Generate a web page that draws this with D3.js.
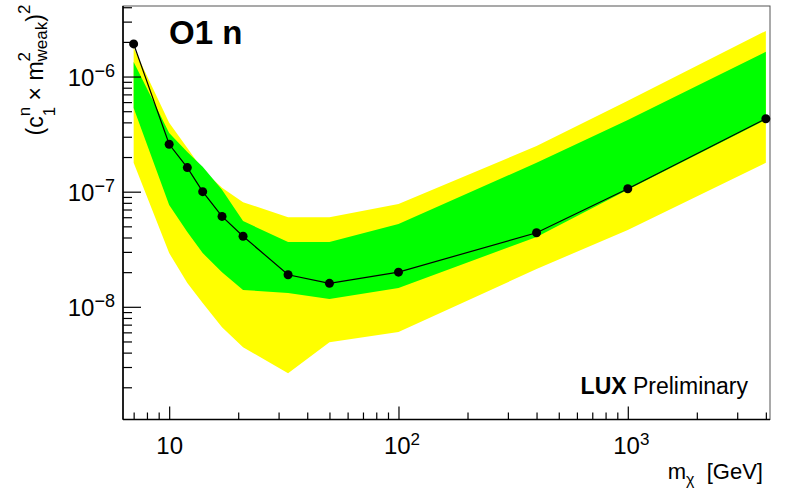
<!DOCTYPE html>
<html>
<head>
<meta charset="utf-8">
<script src="https://cdn.jsdelivr.net/npm/d3@7"></script>
<style>
  body { margin: 0; background: #fff; }
  svg { font-family: "Liberation Sans", Arial, Helvetica, sans-serif; }
  text { white-space: pre; }
</style>
</head>
<body>
<svg id="chart" width="787" height="494"></svg>
<script>
// WIMP masses (GeV) and the limit
var masses   = [7, 10, 12, 14, 17, 21, 33, 50, 100, 400, 1000, 4000];
var observed = [1.92e-6, 2.58e-7, 1.62e-7, 1.0e-7, 6.1e-8, 4.1e-8, 1.9e-8, 1.6e-8, 2.0e-8, 4.4e-8, 1.06e-7, 4.3e-7];

// expected sensitivity bands
var plus2sigma  = [1.78e-6, 3.96e-7, 2.40e-7, 1.55e-7, 1.08e-7, 8.1e-8, 6.0e-8, 6.0e-8, 7.8e-8, 2.49e-7, 6.15e-7, 2.49e-6];
var plus1sigma  = [1.34e-6, 3.23e-7, 2.21e-7, 1.65e-7, 1.04e-7, 5.56e-8, 3.65e-8, 3.65e-8, 5.24e-8, 1.78e-7, 4.2e-7, 1.64e-6];
var minus1sigma = [5.34e-7, 7.66e-8, 4.46e-8, 2.93e-8, 2.0e-8, 1.40e-8, 1.32e-8, 1.17e-8, 1.46e-8, 4.04e-8, 1.04e-7, 4.2e-7];
var minus2sigma = [1.78e-7, 2.93e-8, 1.61e-8, 1.08e-8, 6.65e-9, 4.46e-9, 2.65e-9, 4.93e-9, 6.03e-9, 2.13e-8, 4.65e-8, 1.78e-7];

var xMajor = [10, 100, 1000];
var xMajorLabels = [["10", ""], ["10", "2"], ["10", "3"]];
var yMajor = [1e-8, 1e-7, 1e-6];
var yMajorLabels = [["10", "\u22128"], ["10", "\u22127"], ["10", "\u22126"]];

var frame = {left: 123, top: 6, right: 770, bottom: 419.5};

var svg = d3.select("#chart");

var x = d3.scaleLog().domain([6.29, 4170]).range([frame.left, frame.right]);
var y = d3.scaleLog().domain([1.05e-9, 4.1e-6]).range([frame.bottom, frame.top]);

var rows = masses.map(function(m, i) {
  return {m: m, obs: observed[i], p2: plus2sigma[i], p1: plus1sigma[i], m1: minus1sigma[i], m2: minus2sigma[i]};
});

// minor ticks, every 2..9 of each decade inside the domain
function minorTicks(scale) {
  var d = scale.domain(), out = [];
  var lo = Math.floor(Math.log10(d[0])), hi = Math.ceil(Math.log10(d[1]));
  for (var e = lo; e <= hi; e++) {
    for (var k = 2; k <= 9; k++) {
      var v = k * Math.pow(10, e);
      if (v >= d[0] && v <= d[1]) out.push(v);
    }
  }
  return out;
}

// frame
svg.append("rect")
  .attr("x", frame.left).attr("y", frame.top)
  .attr("width", frame.right - frame.left).attr("height", frame.bottom - frame.top)
  .attr("fill", "none").attr("stroke", "#555").attr("stroke-width", 1);

// bands
var yellow = d3.area()
  .x(function(d) { return x(d.m); })
  .y0(function(d) { return y(d.m2); })
  .y1(function(d) { return y(d.p2); });
var green = d3.area()
  .x(function(d) { return x(d.m); })
  .y0(function(d) { return y(d.m1); })
  .y1(function(d) { return y(d.p1); });

svg.append("path").datum(rows).attr("d", yellow).attr("fill", "#ffff00");
svg.append("path").datum(rows).attr("d", green).attr("fill", "#00ff00");

// observed limit
var line = d3.line()
  .x(function(d) { return x(d.m); })
  .y(function(d) { return y(d.obs); });
svg.append("path").datum(rows).attr("d", line)
  .attr("fill", "none").attr("stroke", "#000").attr("stroke-width", 1.2);
svg.selectAll(".pt").data(rows).enter().append("circle")
  .attr("class", "pt")
  .attr("cx", function(d) { return x(d.m); })
  .attr("cy", function(d) { return y(d.obs); })
  .attr("r", 4.5).attr("fill", "#000");

// axes
var xMinorAxis = d3.axisBottom(x).tickValues(minorTicks(x)).tickSize(-7).tickSizeOuter(0).tickFormat("");
var xMajorAxis = d3.axisBottom(x).tickValues(xMajor).tickSize(-13).tickSizeOuter(0).tickPadding(17).tickFormat("");
var yMinorAxis = d3.axisLeft(y).tickValues(minorTicks(y)).tickSize(-9).tickSizeOuter(0).tickFormat("");
var yMajorAxis = d3.axisLeft(y).tickValues(yMajor).tickSize(-18).tickSizeOuter(0).tickPadding(8).tickFormat("");

var gx = svg.append("g").attr("transform", "translate(0," + frame.bottom + ")");
gx.append("g").call(xMinorAxis);
var gxMaj = gx.append("g").call(xMajorAxis);
var gy = svg.append("g").attr("transform", "translate(" + frame.left + ",0)");
gy.append("g").call(yMinorAxis);
var gyMaj = gy.append("g").call(yMajorAxis);

svg.selectAll(".domain").remove();
svg.selectAll(".tick line").attr("stroke", "#000").attr("stroke-width", 1.2);

// tick labels with exponents
gxMaj.selectAll(".tick text").each(function(d, i) {
  var t = d3.select(this).attr("font-size", 24).attr("fill", "#000").attr("dy", "0.72em");
  t.append("tspan").text(xMajorLabels[i][0]);
  if (xMajorLabels[i][1]) {
    t.append("tspan").attr("font-size", 17).attr("dy", -9).text(xMajorLabels[i][1]);
    t.attr("dx", 3);
  }
});
gyMaj.selectAll(".tick text").each(function(d, i) {
  var t = d3.select(this).attr("font-size", 24).attr("fill", "#000").attr("dy", "0.36em");
  t.append("tspan").text(yMajorLabels[i][0]);
  t.append("tspan").attr("font-size", 18).attr("dy", -9).text(yMajorLabels[i][1]);
});
svg.selectAll(".tick text").attr("font-family", null);

// axis lines
svg.append("line").attr("x1", frame.left).attr("x2", frame.left)
  .attr("y1", frame.top).attr("y2", frame.bottom).attr("stroke", "#000").attr("stroke-width", 1.6);
svg.append("line").attr("x1", frame.left).attr("x2", frame.right)
  .attr("y1", frame.bottom).attr("y2", frame.bottom).attr("stroke", "#000").attr("stroke-width", 1.6);

// x axis title
var xt = svg.append("text").attr("x", 763).attr("y", 479).attr("text-anchor", "end").attr("font-size", 22);
xt.append("tspan").text("m");
xt.append("tspan").attr("font-size", 16).attr("dy", 6).text("\u03c7");
xt.append("tspan").attr("dy", -6).text("  [GeV]");

// y axis title
var yt = svg.append("text").attr("transform", "translate(43,70) rotate(-90)")
  .attr("text-anchor", "middle").attr("font-size", 23);
yt.append("tspan").text("(c");
yt.append("tspan").attr("font-size", 17).attr("dy", -13).text("n");
yt.append("tspan").attr("font-size", 17).attr("dx", -9.5).attr("dy", 25).text("1");
yt.append("tspan").attr("dy", -12).text(" \u00d7 m");
yt.append("tspan").attr("font-size", 17).attr("dy", -13).text("2");
yt.append("tspan").attr("font-size", 17).attr("dx", -9.5).attr("dy", 17).text("weak");
yt.append("tspan").attr("dy", -4).text(")");
yt.append("tspan").attr("font-size", 17).attr("dy", -13).text("2");

// labels
svg.append("text").attr("x", 169).attr("y", 43.5)
  .attr("font-size", 33).attr("font-weight", "bold").text("O1 n");
var lux = svg.append("text").attr("x", 748).attr("y", 393.5).attr("text-anchor", "end").attr("font-size", 23);
lux.append("tspan").attr("font-weight", "bold").text("LUX");
lux.append("tspan").text(" Preliminary");
</script>
</body>
</html>
